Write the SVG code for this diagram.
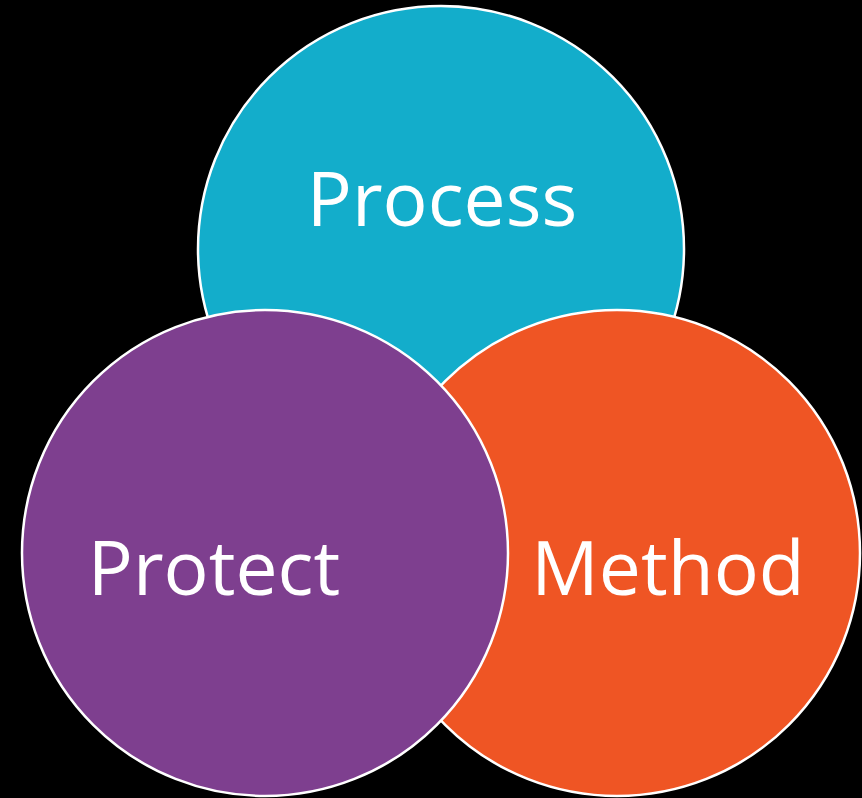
<svg xmlns="http://www.w3.org/2000/svg" width="862" height="798" viewBox="0 0 862 798">
<style>
.c{stroke:#fff;stroke-width:2.5}
.t{font-family:"Open Sans","Noto Sans",sans-serif;font-size:75px;fill:#fff}
</style>
<rect width="862" height="798" fill="#000"/>
<g id="process">
<circle class="c" cx="441" cy="249" r="243" fill="#13ADCB"/>
<text class="t" x="442" y="226" text-anchor="middle">Process</text>
</g>
<g id="method">
<circle class="c" cx="617" cy="553" r="243" fill="#EF5524"/>
<text class="t" x="668" y="595" text-anchor="middle">Method</text>
</g>
<g id="protect">
<circle class="c" cx="265" cy="553" r="243" fill="#7E3F8F"/>
<text class="t" x="214" y="595" text-anchor="middle">Protect</text>
</g>
<g id="connectors"/>
</svg>
